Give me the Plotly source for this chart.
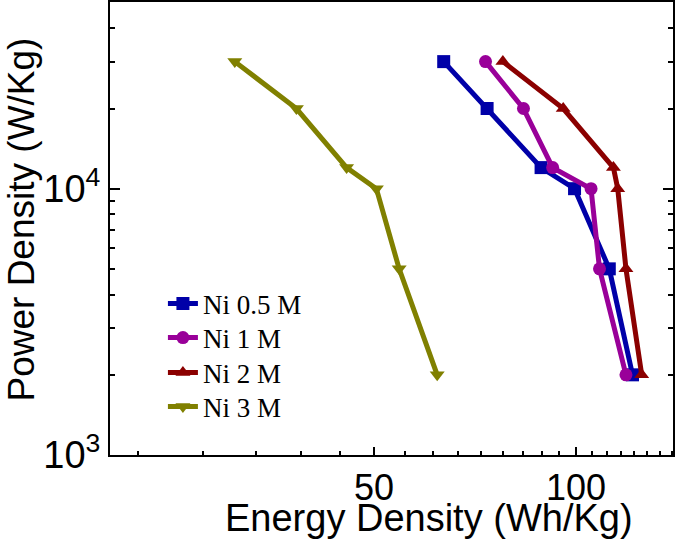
import plotly.graph_objects as go
import numpy as np

# Power density rows (W/Kg)
power = [30000, 20000, 12000, 10000, 5000, 2000]

# Energy density (Wh/Kg) per series
ni_05 = [63.5, 73.7, 88.7, 99.5, 112.1, 121.4]
ni_1 = [73.3, 83.5, 92.3, 105.3, 108.4, 118.7]
ni_2 = [77.8, 95.7, 113.7, 115.4, 118.7, 125.3]
ni_3 = [31.0, 38.3, 45.5, 50.4, 54.5, 62.1]

names = ["Ni 0.5 M", "Ni 1 M", "Ni 2 M", "Ni 3 M"]
colors = ["#0000A8", "#990099", "#8B0000", "#808000"]
symbols = ["square", "circle", "triangle-up", "triangle-down"]
series = [ni_05, ni_1, ni_2, ni_3]

x_ticks = [50, 100]
x_tick_text = ["50", "100"]
y_ticks = [1000, 10000]
y_tick_text = ["10<sup>3</sup>", "10<sup>4</sup>"]

legend_ids = ["legend", "legend2", "legend3", "legend4"]
legend_y = [0.3333, 0.2583, 0.181, 0.106]

fig = go.Figure()
for name, col, sym, xs, lid in zip(names, colors, symbols, series, legend_ids):
    fig.add_trace(go.Scatter(
        x=xs, y=power, name=name, mode="lines+markers",
        line=dict(color=col, width=5),
        marker=dict(symbol=sym, size=13, color=col),
        legend=lid,
    ))

sans = "Arial, Liberation Sans, sans-serif"
serif = "Times New Roman, Liberation Serif, serif"
x_minor = [50 / 9 * k for k in range(4, 26) if k not in (9, 18)]
y_minor = [m * 1000 for m in range(2, 10)] + [20000, 30000, 40000]

legend_layout = {}
for lid, ly in zip(legend_ids, legend_y):
    legend_layout[lid] = dict(
        x=0.094, y=ly, xanchor="left", yanchor="middle",
        bgcolor="rgba(0,0,0,0)",
        font=dict(family=serif, size=27, color="black"),
    )

fig.update_layout(
    width=675, height=541,
    margin=dict(l=110, r=2, t=2, b=86),
    paper_bgcolor="white", plot_bgcolor="white",
    showlegend=True,
    xaxis=dict(
        type="log", automargin=False,
        range=[np.log10(20.2), np.log10(139.5)],
        tickvals=x_ticks, ticktext=x_tick_text,
        ticks="inside", ticklen=8, tickwidth=1.5, tickcolor="black",
        minor=dict(tickvals=x_minor, ticks="inside", ticklen=4, tickwidth=1.5, tickcolor="black", showgrid=False),
        showline=True, linecolor="black", linewidth=2, mirror=True,
        showgrid=False, zeroline=False,
        tickfont=dict(family=sans, size=36, color="black"),
    ),
    yaxis=dict(
        type="log", automargin=False,
        range=[3, 4.701],
        tickvals=y_ticks, ticktext=y_tick_text,
        ticks="inside", ticklen=10, tickwidth=1.5, tickcolor="black",
        minor=dict(tickvals=y_minor, ticks="inside", ticklen=5, tickwidth=1.5, tickcolor="black", showgrid=False),
        showline=True, linecolor="black", linewidth=2, mirror="allticks",
        showgrid=False, zeroline=False,
        tickfont=dict(family=sans, size=38, color="black"),
    ),
    annotations=[
        dict(text="Energy Density (Wh/Kg)", xref="paper", yref="paper",
             x=0.567, y=-0.139, xanchor="center", yanchor="middle", showarrow=False,
             font=dict(family=sans, size=38, color="black")),
        dict(text="Power Density (W/Kg)", xref="paper", yref="paper",
             x=-0.157, y=0.519, xanchor="center", yanchor="middle", showarrow=False,
             textangle=-90, font=dict(family=sans, size=37, color="black")),
    ],
    **legend_layout,
)

fig.write_html("out.html", config={"displayModeBar": False},
               post_script="document.body.style.margin='0';")
